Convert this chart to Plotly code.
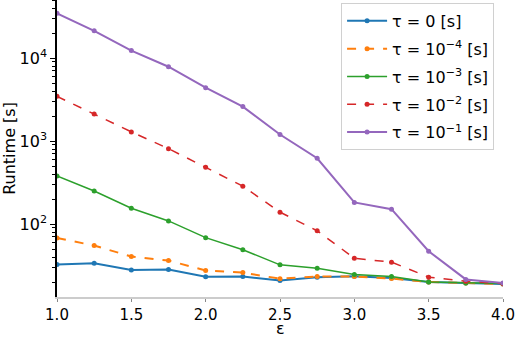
import plotly.graph_objects as go

eps = [1.0, 1.25, 1.5, 1.75, 2.0, 2.25, 2.5, 2.75, 3.0, 3.25, 3.5, 3.75, 4.0]

tau_0 = [32.5, 33.7, 28.0, 28.3, 23.1, 23.3, 20.9, 22.9, 23.5, 22.4, 20.0, 19.5, 19.0]
tau_1e4 = [68, 55, 40.6, 36.3, 27.5, 26.0, 21.9, 23.3, 23.3, 22.0, 20.0, 19.5, 19.0]
tau_1e3 = [380, 250, 155, 109, 68.5, 49, 32.2, 29.4, 24.6, 23.3, 20.0, 19.5, 19.2]
tau_1e2 = [3460, 2120, 1290, 810, 483, 286, 139, 83, 38.7, 34.7, 22.9, 20.4, 19.2]
tau_1e1 = [34600, 21300, 12300, 7870, 4400, 2600, 1200, 620, 182, 151, 47, 21.5, 19.5]

series = [
    ("τ = 0 [s]", tau_0, "#1f77b4", "solid", 2.0),
    ("τ = 10<sup>−4</sup> [s]", tau_1e4, "#ff7f0e", "dash", 2.0),
    ("τ = 10<sup>−3</sup> [s]", tau_1e3, "#2ca02c", "solid", 1.5),
    ("τ = 10<sup>−2</sup> [s]", tau_1e2, "#d62728", "dash", 1.5),
    ("τ = 10<sup>−1</sup> [s]", tau_1e1, "#9467bd", "solid", 2.0),
]

x_ticks = [1.0, 1.5, 2.0, 2.5, 3.0, 3.5, 4.0]
x_ticktext = ["1.0", "1.5", "2.0", "2.5", "3.0", "3.5", "4.0"]
y_ticks = [100, 1000, 10000]
y_ticktext = ["10<sup>2</sup>", "10<sup>3</sup>", "10<sup>4</sup>"]
y_minor = [m * d for d in [10, 100, 1000, 10000] for m in range(2, 10)]

fig = go.Figure()
for i, (name, vals, color, dash, w) in enumerate(series):
    fig.add_trace(go.Scatter(
        x=eps, y=vals, name=name, mode="lines+markers",
        legendgroup=f"g{i}",
        line=dict(color=color, dash=dash, width=w),
        marker=dict(color=color, size=5, symbol="circle"),
    ))

PLOT_H = 297
font = dict(family="DejaVu Sans", size=16, color="black")
fig.update_layout(
    width=516, height=338,
    margin=dict(l=57, r=13, t=0, b=338 - PLOT_H),
    paper_bgcolor="white", plot_bgcolor="white",
    font=font,
    showlegend=True,
    legend=dict(
        x=0.98, y=0.99, xanchor="right", yanchor="top",
        bgcolor="white", bordercolor="#d0d0d0", borderwidth=1,
        font=dict(family="DejaVu Sans", size=16, color="black"),
        tracegroupgap=4, itemwidth=40,
    ),
    annotations=[dict(
        text="ε", x=0.5, y=(PLOT_H - 328) / PLOT_H, xref="paper", yref="paper",
        showarrow=False, font=font, xanchor="center", yanchor="middle",
    )],
)

fig.update_xaxes(
    range=[1.0, 4.0], tickvals=x_ticks, ticktext=x_ticktext,
    showgrid=False, zeroline=False,
    showline=True, linecolor="#cccccc", linewidth=1.5,
    ticks="outside", ticklen=3, tickcolor="#888888", tickwidth=1,
    tickfont=dict(family="DejaVu Sans", size=15, color="black"),
)
fig.update_yaxes(
    type="log", range=[1.1206, 4.70],
    tickvals=y_ticks, ticktext=y_ticktext,
    showgrid=False, zeroline=False,
    showline=True, linecolor="black", linewidth=1.5,
    ticks="outside", ticklen=5, tickcolor="black", tickwidth=1,
    tickfont=dict(family="DejaVu Sans", size=16, color="black"),
    minor=dict(tickmode="array", tickvals=y_minor, ticks="outside",
               ticklen=3, tickcolor="black", tickwidth=1, showgrid=False),
    title=dict(text="Runtime [s]", font=font, standoff=2),
)

fig.write_html("out.html", config={"displayModeBar": False},
               post_script="document.body.style.margin='0';")
